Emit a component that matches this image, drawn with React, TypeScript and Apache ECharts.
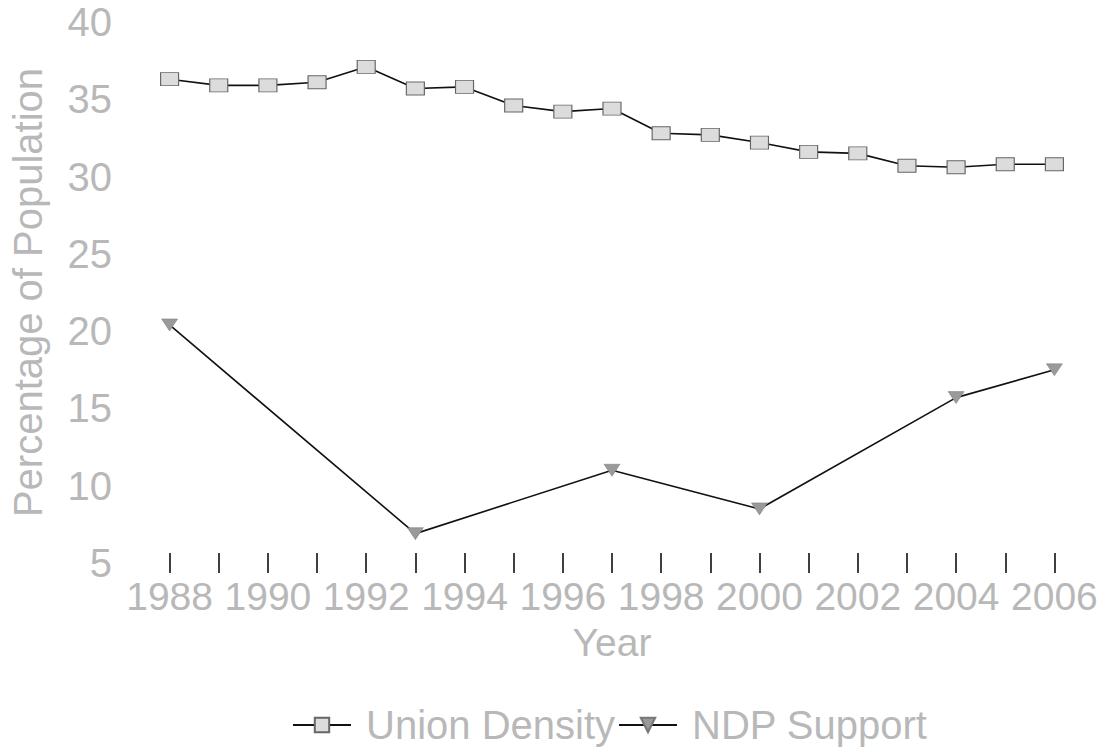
import React, { useEffect, useRef } from "react";
import * as echarts from "echarts";

const years = ["1988","1989","1990","1991","1992","1993","1994","1995","1996","1997","1998","1999","2000","2001","2002","2003","2004","2005","2006"];
const unionDensity = [36.3, 35.9, 35.9, 36.1, 37.1, 35.7, 35.8, 34.6, 34.2, 34.4, 32.8, 32.7, 32.2, 31.6, 31.5, 30.7, 30.6, 30.8, 30.8];
const ndpSupport: (number | null)[] = [20.4, null, null, null, null, 6.9, null, null, null, 11.0, null, null, 8.5, null, null, null, 15.7, null, 17.5];
const yTicks = { min: 5, max: 40, interval: 5 };

const GRAY = "#b8b8b8";
const FONT = "'Liberation Sans', Arial, sans-serif";

export default function App() {
  const ref = useRef<HTMLDivElement>(null);
  useEffect(() => {
    if (!ref.current) return;
    const chart = echarts.init(ref.current, undefined, { renderer: "svg" });
    chart.setOption({
      animation: false,
      backgroundColor: "#ffffff",
      textStyle: { fontFamily: FONT },
      grid: { left: 143, right: 26, top: 22, bottom: 193, containLabel: false },
      legend: {
        left: 287,
        top: 700,
        itemGap: 3,
        itemWidth: 58,
        itemHeight: 18,
        textStyle: { color: GRAY, fontSize: 40, fontFamily: FONT, padding: [0, 0, 0, 10] },
        data: ["Union Density", "NDP Support"],
      },
      xAxis: {
        type: "category",
        data: years,
        boundaryGap: true,
        offset: -10,
        name: "Year",
        nameLocation: "middle",
        nameGap: 70,
        nameTextStyle: { color: GRAY, fontSize: 39, fontFamily: FONT },
        axisLine: { show: false },
        axisTick: { show: true, alignWithLabel: true, length: 20, interval: 0, lineStyle: { color: "#000", width: 1.5 } },
        axisLabel: { interval: 1, color: GRAY, fontSize: 39, fontFamily: FONT, margin: 24 },
        splitLine: { show: false },
      },
      yAxis: {
        type: "value",
        min: yTicks.min,
        max: yTicks.max,
        interval: yTicks.interval,
        name: "Percentage of Population",
        nameLocation: "middle",
        nameGap: 97,
        nameTextStyle: { color: GRAY, fontSize: 40, fontFamily: FONT },
        axisLine: { show: false },
        axisTick: { show: false },
        axisLabel: { color: GRAY, fontSize: 40, fontFamily: FONT, margin: 33 },
        splitLine: { show: false },
      },
      series: [
        {
          name: "Union Density",
          type: "line",
          data: unionDensity,
          symbol: "rect",
          symbolSize: [18, 13],
          lineStyle: { color: "#111", width: 1.6 },
          itemStyle: { color: "#dcdcdc", borderColor: "#666", borderWidth: 1 },
        },
        {
          name: "NDP Support",
          type: "line",
          data: ndpSupport,
          connectNulls: true,
          symbol: "triangle",
          symbolRotate: 180,
          symbolSize: [16, 12],
          lineStyle: { color: "#111", width: 1.6 },
          itemStyle: { color: "#9a9a9a", borderColor: "#777", borderWidth: 0.5 },
        },
      ],
    });
    return () => chart.dispose();
  }, []);
  return <div ref={ref} style={{ position: "fixed", left: 0, top: 0, width: 1105, height: 756 }} />;
}
